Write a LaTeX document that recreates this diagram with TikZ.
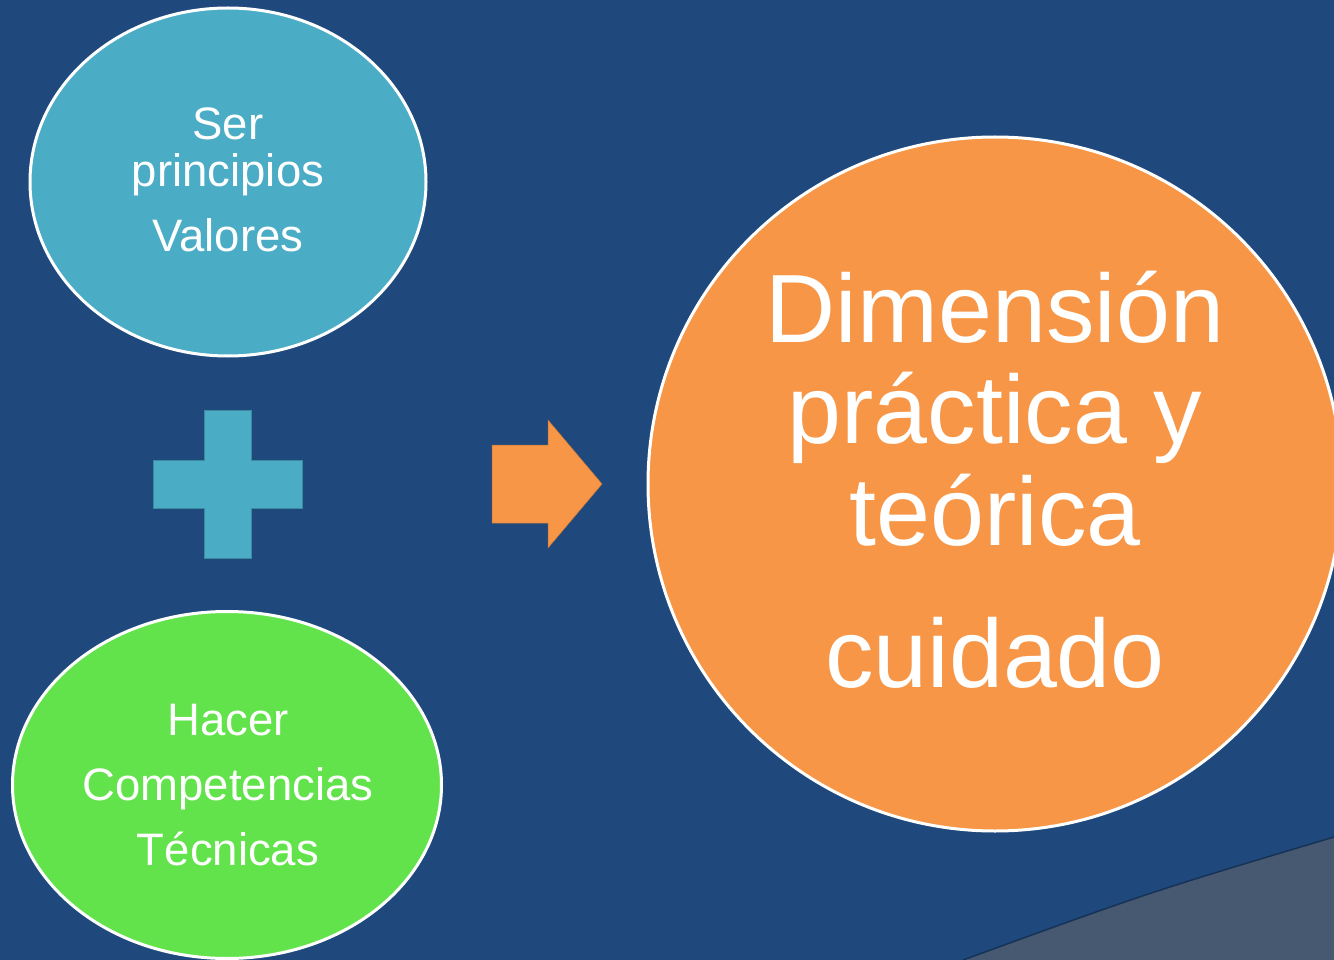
\documentclass[tikz,border=0pt]{standalone}
\usepackage{fontspec}
\setmainfont{Liberation Sans}
\usepackage{tikz}
\usetikzlibrary{positioning,shapes.geometric}
\definecolor{fondo}{RGB}{31,73,125}
\definecolor{gris}{RGB}{70,89,112}
\definecolor{turquesa}{RGB}{75,172,198}
\definecolor{naranja}{RGB}{247,150,70}
\definecolor{verde}{RGB}{99,227,75}

\begin{document}
\begin{tikzpicture}[x=1pt,y=-1pt,
  burbuja/.style={ellipse, draw=white, line width=3pt, inner sep=0pt},
  linea/.style={text=white, inner sep=0pt, anchor=base, font=\fontsize{45.5}{46}\selectfont},
  grande/.style={text=white, inner sep=0pt, anchor=base, font=\fontsize{97}{97}\selectfont}]
  \useasboundingbox (0,0) rectangle (1334,960);
  \fill[fondo] (0,0) rectangle (1334,960);
  \fill[gris] (963,960) .. controls (1150,892) .. (1334,837) -- (1334,960) -- cycle;
  \draw[fondo!70!black, line width=1.5pt] (963,960) .. controls (1150,892) .. (1334,837);
  % ovalos
  \node[burbuja, fill=turquesa, minimum width=396pt, minimum height=348pt] (ser) at (228,182) {};
  \node[burbuja, fill=verde, minimum width=429pt, minimum height=347pt] (hacer) at (227,785) {};
  \node[circle, draw=white, line width=3pt, fill=naranja, minimum size=694pt, inner sep=0pt] (dim) at (995,484) {};
  % signo mas y flecha
  \fill[turquesa, draw=turquesa!80!black, line width=0.5pt]
    (204,410) -- (251,410) -- (251,460) -- (302,460) -- (302,508) -- (251,508) -- (251,558)
    -- (204,558) -- (204,508) -- (153,508) -- (153,460) -- (204,460) -- cycle;
  \fill[naranja, draw=naranja!80!black, line width=0.5pt]
    (492,445) -- (548,445) -- (548,420) -- (602,484) -- (548,548) -- (548,523) -- (492,523) -- cycle;
  % textos
  \node[linea] (ser1) at (228,140) {Ser};
  \node[linea] (ser2) at (228,187) {principios};
  \node[linea] (ser3) at (228,252) {Valores};
  \node[linea] (hacer1) at (228,735) {Hacer};
  \node[linea] (hacer2) at (228,800) {Competencias};
  \node[linea] (hacer3) at (228,865) {Técnicas};
  \node[grande] (dim1) at (995,342) {Dimensión};
  \node[grande] (dim2) at (995,443) {práctica y};
  \node[grande] (dim3) at (995,545) {teórica};
  \node[grande] (dim4) at (995,687) {cuidado};
\end{tikzpicture}
\end{document}
